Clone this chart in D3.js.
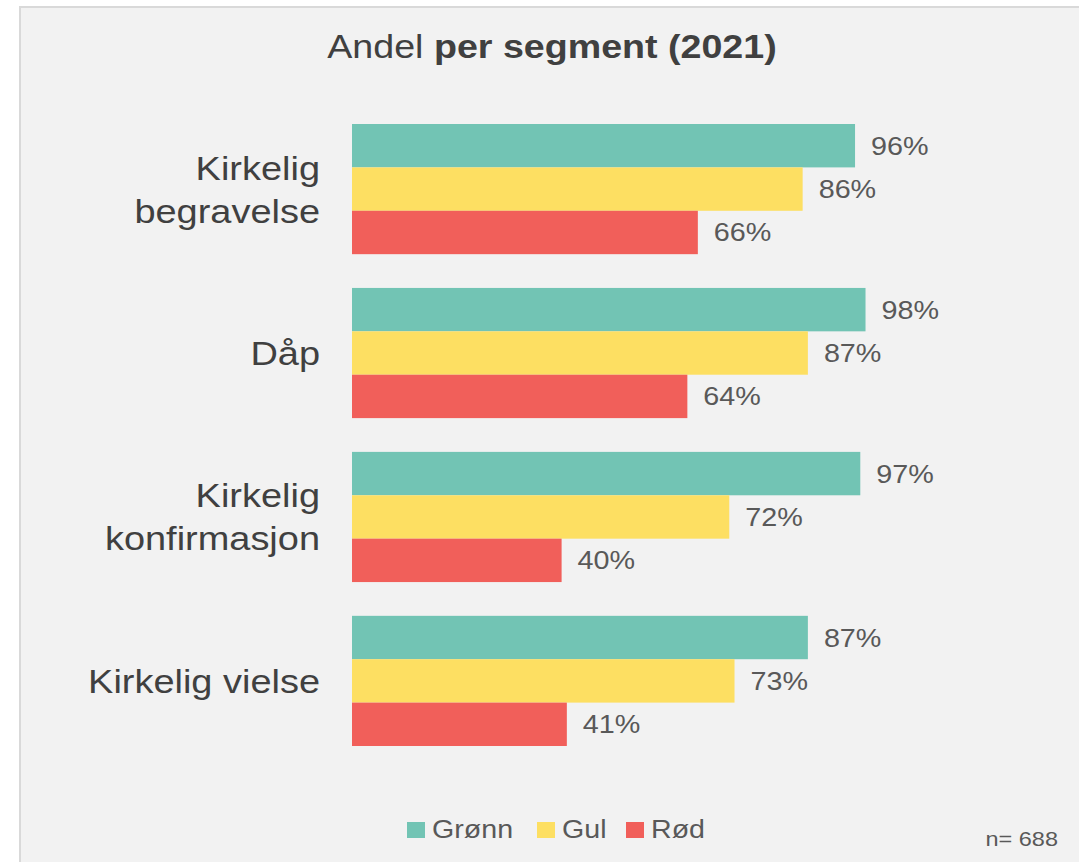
<!DOCTYPE html>
<html><head><meta charset="utf-8">
<script src="https://cdn.jsdelivr.net/npm/d3@7"></script>
<style>body{margin:0;background:#fff;}svg{display:block;}</style>
</head><body>
<svg id="c" width="1079" height="862"></svg>
<script>
const categories = [["Kirkelig","begravelse"],["Dåp"],["Kirkelig","konfirmasjon"],["Kirkelig vielse"]];
const seriesNames = ["Grønn","Gul","Rød"];
const seriesColors = ["#72c4b4","#fddf62","#f15f5a"];
const gronn = [96,98,97,87];
const gul = [86,87,72,73];
const rod = [66,64,40,41];
const values = [gronn, gul, rod];
const title = ["Andel ", "per segment (2021)"];
const nLabel = "n= 688";

const svg = d3.select("#c");
const FONT = "'Liberation Sans', Arial, sans-serif";
svg.append("rect").attr("x",20).attr("y",7).attr("width",1079).attr("height",900)
  .attr("fill","#f2f2f2").attr("stroke","#d9d9d9").attr("stroke-width",2);

function stext(g, x, y, sx, txt){
  return g.append("text").attr("transform",`translate(${x},${y}) scale(${sx},1)`).text(txt);
}

// title
const tt = stext(svg, 552, 58, 1.14, "").attr("text-anchor","middle").attr("font-family",FONT)
  .attr("font-size",33).attr("fill","#404040");
tt.append("tspan").text(title[0]);
tt.append("tspan").attr("font-weight","bold").text(title[1]);

const y = d3.scaleBand().domain(d3.range(categories.length)).range([124,746]).paddingInner(0.206).paddingOuter(0);
const yi = d3.scaleBand().domain(d3.range(seriesNames.length)).range([0,y.bandwidth()]).padding(0);
const x = d3.scaleLinear().domain([0,100]).range([352,876]);

const groups = svg.selectAll("g.grp").data(categories).join("g").attr("class","grp")
  .attr("transform",(d,i)=>`translate(0,${y(i)})`);

groups.each(function(cat, ci){
  const g = d3.select(this);
  seriesNames.forEach((s, si)=>{
    const v = values[si][ci];
    g.append("rect").attr("x",x(0)).attr("y",yi(si)).attr("width",x(v)-x(0)).attr("height",yi.bandwidth())
      .attr("fill",seriesColors[si]);
    stext(g, x(v)+16, yi(si)+yi.bandwidth()/2+9, 1.15, v+"%")
      .attr("font-family",FONT).attr("font-size",25).attr("fill","#595959");
  });
  const lh = 43;
  const cy = y.bandwidth()/2;
  cat.forEach((line, li)=>{
    const yy = cy + 12 + (li - (cat.length-1)/2)*lh;
    stext(g, 320, yy, 1.15, line).attr("text-anchor","end").attr("font-family",FONT)
      .attr("font-size",33).attr("fill","#404040");
  });
});

// legend
const legX = [407, 537, 626];
seriesNames.forEach((s,i)=>{
  svg.append("rect").attr("x",legX[i]).attr("y",822).attr("width",18).attr("height",16).attr("fill",seriesColors[i]);
  stext(svg, legX[i]+25, 838, 1.1, s).attr("font-family",FONT).attr("font-size",26).attr("fill","#595959");
});
stext(svg, 1058, 846, 1.12, nLabel).attr("text-anchor","end").attr("font-family",FONT).attr("font-size",21).attr("fill","#595959");
</script>
</body></html>
